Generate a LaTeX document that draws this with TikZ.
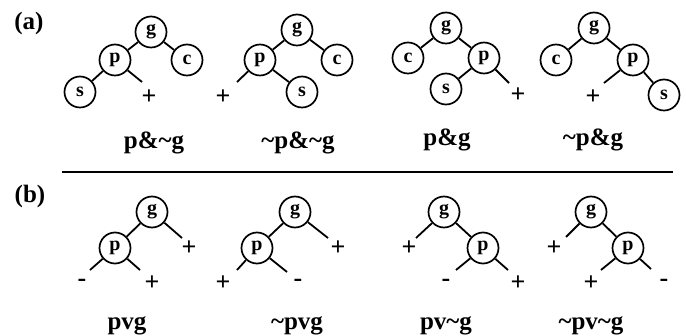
\documentclass[tikz,border=0pt]{standalone}
\usepackage{fontspec}
\setmainfont{Liberation Serif}
\newcommand{\tl}{\textasciitilde}
\begin{document}
\begin{tikzpicture}[x=1pt,y=-1pt,
  nd/.style={circle,draw,line width=1.7pt,minimum size=31pt,inner sep=0pt,font=\bfseries\fontsize{20}{20}\selectfont},
  sg/.style={inner sep=0pt,font=\bfseries\fontsize{26}{26}\selectfont},
  lbl/.style={inner sep=0pt,anchor=base,font=\bfseries\fontsize{25}{25}\selectfont},
  hd/.style={inner sep=0pt,font=\bfseries\fontsize{25}{25}\selectfont},
  ln/.style={line width=1.8pt}]
\useasboundingbox (0,0) rectangle (686,336);
\fill[white] (0,0) rectangle (686,336);
\node[hd] (ha) at (29,23) {(a)};
\node[hd] (hb) at (30,196) {(b)};
% separator
\coordinate (l1) at (62,172);
\coordinate (l2) at (673,172);
\draw[line width=1.3pt] (l1) -- (l2);
% tree 1
\node[nd] (g1) at (151,32) {g};
\node[nd] (p1) at (115,60) {p};
\node[nd] (c1) at (187,60) {c};
\node[nd] (s1) at (80,92) {s};
\coordinate (e1) at (142,82);
\node[sg] (q1) at (149,97) {+};
\draw[ln] (g1)--(p1) (g1)--(c1) (p1)--(s1) (p1)--(e1);
\node[lbl] (t1) at (154,149) {p\&\tl g};
% tree 2
\node[nd] (g2) at (297,30) {g};
\node[nd] (p2) at (260,60) {p};
\node[nd] (c2) at (337,60) {c};
\node[nd] (s2) at (302,92) {s};
\coordinate (e2) at (237,82);
\node[sg] (q2) at (223,97) {+};
\draw[ln] (g2)--(p2) (g2)--(c2) (p2)--(s2) (p2)--(e2);
\node[lbl] (t2) at (298,149) {\tl p\&\tl g};
% tree 3
\node[nd] (g3) at (446,28) {g};
\node[nd] (c3) at (408,58) {c};
\node[nd] (p3) at (484,58) {p};
\node[nd] (s3) at (446,89) {s};
\coordinate (e3) at (509,83);
\node[sg] (q3) at (518,95) {+};
\draw[ln] (g3)--(c3) (g3)--(p3) (p3)--(s3) (p3)--(e3);
\node[lbl] (t3) at (447,146) {p\&g};
% tree 4
\node[nd] (g4) at (594,28) {g};
\node[nd] (c4) at (556,60) {c};
\node[nd] (p4) at (633,60) {p};
\node[nd] (s4) at (664,95) {s};
\coordinate (e4) at (604,83);
\node[sg] (q4) at (593,97) {+};
\draw[ln] (g4)--(c4) (g4)--(p4) (p4)--(s4) (p4)--(e4);
\node[lbl] (t4) at (593,146) {\tl p\&g};
% tree 5
\node[nd] (g5) at (152,212) {g};
\node[nd] (p5) at (115,248) {p};
\coordinate (f5) at (182,238);
\node[sg] (r5) at (189,248) {+};
\coordinate (a5) at (90,270);
\node[sg] (m5) at (82,283) {-};
\coordinate (b5) at (140,270);
\node[sg] (n5) at (152,283) {+};
\draw[ln] (g5)--(p5) (g5)--(f5) (p5)--(a5) (p5)--(b5);
\node[lbl] (t5) at (127,330) {pvg};
% tree 6
\node[nd] (g6) at (295,212) {g};
\node[nd] (p6) at (257,248) {p};
\coordinate (f6) at (328,238);
\node[sg] (r6) at (338,248) {+};
\coordinate (a6) at (237,270);
\node[sg] (m6) at (223,283) {+};
\coordinate (b6) at (287,272);
\node[sg] (n6) at (298,283) {-};
\draw[ln] (g6)--(p6) (g6)--(f6) (p6)--(a6) (p6)--(b6);
\node[lbl] (t6) at (297,330) {\tl pvg};
% tree 7
\node[nd] (g7) at (444,212) {g};
\node[nd] (p7) at (483,248) {p};
\coordinate (f7) at (416,238);
\node[sg] (r7) at (409,248) {+};
\coordinate (a7) at (456,270);
\node[sg] (m7) at (446,283) {-};
\coordinate (b7) at (508,270);
\node[sg] (n7) at (518,283) {+};
\draw[ln] (g7)--(p7) (g7)--(f7) (p7)--(a7) (p7)--(b7);
\node[lbl] (t7) at (446,330) {pv\tl g};
% tree 8
\node[nd] (g8) at (591,212) {g};
\node[nd] (p8) at (628,248) {p};
\coordinate (f8) at (566,237);
\node[sg] (r8) at (554,248) {+};
\coordinate (a8) at (601,270);
\node[sg] (m8) at (591,283) {+};
\coordinate (b8) at (651,269);
\node[sg] (n8) at (664,283) {-};
\draw[ln] (g8)--(p8) (g8)--(f8) (p8)--(a8) (p8)--(b8);
\node[lbl] (t8) at (591,330) {\tl pv\tl g};
\end{tikzpicture}
\end{document}
